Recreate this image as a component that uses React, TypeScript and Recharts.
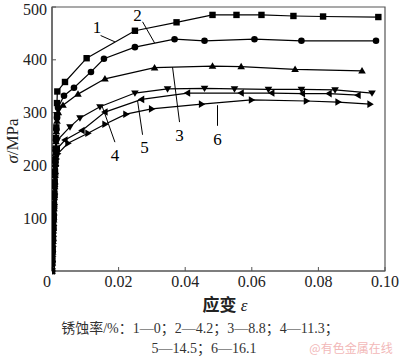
import React from "react";
import {
  LineChart, Line, XAxis, YAxis, ReferenceArea, ReferenceLine, ReferenceDot,
} from "recharts";

// strain (ε) / stress (σ, MPa) readings for each corrosion rate
const curve1 = [
  [0, 0], [0.0001, 20], [0.0002, 40], [0.0003, 62], [0.0004, 82], [0.0005, 104],
  [0.0006, 125], [0.0007, 146], [0.0008, 168], [0.0009, 188], [0.001, 210],
  [0.0011, 232], [0.0012, 252], [0.0013, 272], [0.0015, 295], [0.0015, 318],
  [0.0016, 340], [0.0039, 358], [0.0104, 403], [0.0249, 455], [0.0374, 471],
  [0.0482, 485], [0.0554, 485], [0.0629, 485], [0.0725, 483], [0.0814, 482],
  [0.098, 481],
];
const curve2 = [
  [0, 0], [0.0001, 18], [0.0002, 38], [0.0003, 58], [0.0004, 80], [0.0005, 100],
  [0.0006, 122], [0.0007, 142], [0.0008, 164], [0.0009, 185], [0.001, 206],
  [0.0011, 228], [0.0012, 248], [0.0013, 268], [0.0015, 290], [0.0018, 309],
  [0.0036, 332], [0.0066, 347], [0.0117, 377], [0.0156, 402], [0.0249, 424],
  [0.0368, 439], [0.0458, 436], [0.0608, 439], [0.0749, 436], [0.0973, 436],
];
const curve3 = [
  [0, 0], [0.0001, 16], [0.0002, 36], [0.0003, 56], [0.0004, 76], [0.0005, 97],
  [0.0006, 118], [0.0007, 139], [0.0008, 160], [0.0009, 181], [0.001, 202],
  [0.0011, 224], [0.0012, 245], [0.0013, 264], [0.0015, 284], [0.0019, 300],
  [0.0033, 314], [0.0078, 335], [0.0159, 364], [0.0308, 385], [0.0482, 388],
  [0.0568, 387], [0.073, 382], [0.0931, 379],
];
const curve4 = [
  [0, 0], [0.0001, 14], [0.0002, 33], [0.0003, 53], [0.0004, 73], [0.0005, 93],
  [0.0006, 114], [0.0007, 135], [0.0008, 156], [0.0009, 176], [0.001, 196],
  [0.0011, 214], [0.0012, 230], [0.0015, 247], [0.0054, 273], [0.0084, 290],
  [0.0144, 311], [0.0249, 337], [0.0347, 345], [0.0458, 346], [0.0548, 345],
  [0.065, 344], [0.0749, 344], [0.085, 343], [0.0961, 337],
];
const curve5 = [
  [0, 0], [0.0001, 12], [0.0002, 30], [0.0003, 50], [0.0004, 70], [0.0005, 90],
  [0.0006, 110], [0.0007, 130], [0.0008, 150], [0.0009, 170], [0.001, 190],
  [0.0011, 206], [0.0013, 222], [0.0016, 232], [0.0039, 248], [0.009, 266],
  [0.0159, 301], [0.0269, 325], [0.0407, 337], [0.0568, 337], [0.066, 337],
  [0.0752, 336], [0.0832, 336], [0.0919, 333],
];
const curve6 = [
  [0, 0], [0.0001, 10], [0.0002, 28], [0.0003, 47], [0.0004, 66], [0.0005, 86],
  [0.0006, 106], [0.0007, 126], [0.0008, 146], [0.0009, 165], [0.001, 184],
  [0.0011, 200], [0.0013, 212], [0.0017, 222], [0.0048, 242], [0.0108, 261],
  [0.0159, 278], [0.0222, 297], [0.0299, 307], [0.0449, 316], [0.0599, 324],
  [0.0764, 322], [0.0859, 320], [0.0955, 316],
];

const xTicks = [0, 0.02, 0.04, 0.06, 0.08, 0.1];
const yTicks = [100, 200, 300, 400, 500];

// callout number, label point, leader start, leader end
const callouts = [
  { n: "1", at: [0.0135, 462], from: [0.0146, 446], to: [0.0189, 434] },
  { n: "2", at: [0.0257, 485], from: [0.0272, 472], to: [0.0308, 432] },
  { n: "3", at: [0.0383, 258], from: [0.0383, 282], to: [0.0362, 386] },
  { n: "4", at: [0.0189, 220], from: [0.0189, 244], to: [0.015, 313] },
  { n: "5", at: [0.0278, 235], from: [0.0272, 258], to: [0.0257, 322] },
  { n: "6", at: [0.0497, 250], from: [0.0497, 275], to: [0.0497, 314] },
];

const SERIF = "'Liberation Serif', 'Times New Roman', 'Noto Sans CJK SC', serif";
const AXIS = "#555";

const toRows = (pts: number[][]) => pts.map(([x, y]) => ({ x, y }));

function Marker({ cx, cy, shape }: { cx?: number; cy?: number; shape: string }) {
  if (cx == null || cy == null) return null;
  const s = 3.2;
  const t = 3.8;
  switch (shape) {
    case "square":
      return <rect x={cx - s} y={cy - s} width={s * 2} height={s * 2} fill="#000" />;
    case "circle":
      return <circle cx={cx} cy={cy} r={3.3} fill="#000" />;
    case "up":
      return <polygon points={`${cx},${cy - t} ${cx - t},${cy + t * 0.7} ${cx + t},${cy + t * 0.7}`} fill="#000" />;
    case "down":
      return <polygon points={`${cx},${cy + t} ${cx - t},${cy - t * 0.7} ${cx + t},${cy - t * 0.7}`} fill="#000" />;
    case "left":
      return <polygon points={`${cx - t},${cy} ${cx + t * 0.7},${cy - t} ${cx + t * 0.7},${cy + t}`} fill="#000" />;
    default:
      return <polygon points={`${cx + t},${cy} ${cx - t * 0.7},${cy - t} ${cx - t * 0.7},${cy + t}`} fill="#000" />;
  }
}

const series = [
  { key: "c1", data: curve1, shape: "square" },
  { key: "c2", data: curve2, shape: "circle" },
  { key: "c3", data: curve3, shape: "up" },
  { key: "c4", data: curve4, shape: "down" },
  { key: "c5", data: curve5, shape: "left" },
  { key: "c6", data: curve6, shape: "right" },
];

function XTick(props: any) {
  const { x, y, payload } = props;
  const v = payload.value;
  return (
    <text x={v === 0 ? x - 5 : x} y={y} dy="0.71em" textAnchor="middle"
      fontFamily={SERIF} fontSize={16} fill="#222">
      {v === 0 ? "0" : v.toFixed(2)}
    </text>
  );
}

export default function App() {
  return (
    <div style={{ position: "absolute", left: 0, top: 0, width: 400, height: 359, background: "#fff" }}>
      <LineChart width={400} height={359} margin={{ top: 7, right: 15, left: 0, bottom: 0 }}>
        <XAxis
          dataKey="x" type="number" domain={[0, 0.1]} ticks={xTicks}
          allowDataOverflow height={88}
          tick={<XTick />} tickSize={-4} tickMargin={9}
          axisLine={{ stroke: AXIS, strokeWidth: 1.2 }} tickLine={{ stroke: AXIS }}
        />
        <YAxis
          dataKey="y" type="number" domain={[0, 500]} ticks={yTicks} width={52}
          tick={{ fontFamily: SERIF, fontSize: 16, fill: "#222" }}
          tickSize={-4} tickMargin={9}
          axisLine={{ stroke: AXIS, strokeWidth: 1.2 }} tickLine={{ stroke: AXIS }}
        />
        <ReferenceArea x1={0} x2={0.1} y1={0} y2={500} fill="none" stroke={AXIS} strokeWidth={1.2} />
        {series.map((s) => (
          <Line
            key={s.key} data={toRows(s.data)} dataKey="y" type="linear"
            stroke="#000" strokeWidth={1.2} isAnimationActive={false}
            dot={(p: any) => <Marker key={`${s.key}-${p.index}`} cx={p.cx} cy={p.cy} shape={s.shape} />}
          />
        ))}
        {callouts.map((c) => (
          <ReferenceLine
            key={`l${c.n}`} segment={[{ x: c.from[0], y: c.from[1] }, { x: c.to[0], y: c.to[1] }]}
            stroke="#000" strokeWidth={1}
          />
        ))}
        {callouts.map((c) => (
          <ReferenceDot
            key={`d${c.n}`} x={c.at[0]} y={c.at[1]} r={0} fill="none" stroke="none"
            label={{ value: c.n, position: "center", fontFamily: SERIF, fontSize: 17, fill: "#000" }}
          />
        ))}
      </LineChart>
      <svg width={400} height={359} style={{ position: "absolute", left: 0, top: 0, pointerEvents: "none" }}>
        <text x={12} y={141} transform="rotate(-90 12 141)" textAnchor="middle" dominantBaseline="central"
          fontFamily={SERIF} fontSize={17} fill="#222">
          <tspan fontStyle="italic">σ</tspan>/MPa
        </text>
        <text x={225} y={311} textAnchor="middle" fontFamily={SERIF} fontSize={17} fill="#222">
          <tspan fontWeight="bold">应变</tspan> <tspan fontStyle="italic">ε</tspan>
        </text>
        <text x={200} y={333} textAnchor="middle" fontFamily={SERIF} fontSize={14} fill="#333">
          锈蚀率/%：1—0；2—4.2；3—8.8；4—11.3；
        </text>
        <text x={204} y={353} textAnchor="middle" fontFamily={SERIF} fontSize={14} fill="#333">
          5—14.5；6—16.1
        </text>
        <text x={351} y={353} textAnchor="middle" fontFamily="'Noto Sans CJK SC', sans-serif" fontSize={12} fill="#f2b8b8">
          @有色金属在线
        </text>
      </svg>
    </div>
  );
}
